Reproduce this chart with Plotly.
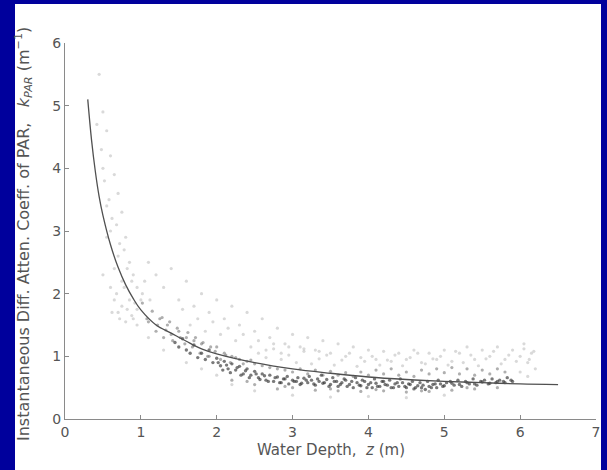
import plotly.graph_objects as go

# Fitted curve
curve_z = [0.3, 0.35, 0.4, 0.45, 0.5, 0.6, 0.7, 0.8, 0.9, 1.0, 1.2, 1.4, 1.6, 1.8, 2.0, 2.5, 3.0, 3.5, 4.0, 4.5, 5.0, 5.5, 6.0, 6.5]
curve_k = [5.1, 4.45, 3.95, 3.55, 3.25, 2.78, 2.42, 2.14, 1.92, 1.74, 1.5, 1.37, 1.24, 1.12, 1.04, 0.9, 0.8, 0.73, 0.67, 0.63, 0.6, 0.58, 0.56, 0.55]

# Dense core of observations
dark_z = [1.45, 1.5, 1.55, 1.6, 1.65, 1.7, 1.75, 1.8, 1.85, 1.9, 1.95, 2.0, 2.05, 2.1, 2.15, 2.2, 2.25, 2.3, 2.35, 2.4,
          2.45, 2.5, 2.55, 2.6, 2.65, 2.7, 2.75, 2.8, 2.85, 2.9, 2.95, 3.0, 3.05, 3.1, 3.15, 3.2, 3.25, 3.3, 3.35, 3.4,
          3.45, 3.5, 3.55, 3.6, 3.65, 3.7, 3.75, 3.8, 3.85, 3.9, 3.95, 4.0, 4.05, 4.1, 4.15, 4.2, 4.25, 4.3, 4.35, 4.4,
          4.45, 4.5, 4.55, 4.6, 4.65, 4.7, 4.75, 4.8, 4.85, 4.9, 4.95, 5.0, 5.1, 5.2, 5.3, 5.4, 5.5, 5.6, 5.7, 5.8, 5.9]
dark_k = [1.22, 1.15, 1.28, 1.1, 1.05, 1.18, 0.98, 1.05, 0.95, 1.1, 0.9, 0.97, 0.85, 0.92, 0.8, 0.88, 0.78, 0.84, 0.72, 0.8,
          0.7, 0.76, 0.66, 0.72, 0.62, 0.7, 0.6, 0.67, 0.58, 0.64, 0.56, 0.62, 0.6, 0.55, 0.65, 0.58, 0.62, 0.54, 0.6, 0.57,
          0.63, 0.55, 0.6, 0.52, 0.58, 0.62, 0.55, 0.5, 0.58, 0.53, 0.6, 0.55, 0.5, 0.57, 0.52, 0.6, 0.54, 0.5, 0.56, 0.52,
          0.58, 0.5, 0.55, 0.48, 0.53, 0.5, 0.47, 0.52, 0.55, 0.5, 0.56, 0.53, 0.57, 0.55, 0.58, 0.56, 0.59, 0.57, 0.6, 0.58, 0.6]

core_z = [2.02, 2.08, 2.13, 2.18, 2.27, 2.32, 2.38, 2.43, 2.52, 2.57, 2.63, 2.68, 2.77, 2.83, 2.88, 2.93,
          3.02, 3.07, 3.12, 3.18, 3.22, 3.28, 3.33, 3.38, 3.42, 3.48, 3.53, 3.58, 3.63, 3.68, 3.72, 3.78, 3.83, 3.88, 3.92, 3.98,
          4.03, 4.08, 4.12, 4.18, 4.22, 4.28, 4.33, 4.38, 4.42, 4.48, 4.53, 4.58, 4.62, 4.68, 4.72, 4.78, 4.83, 4.88, 4.92, 4.98,
          5.03, 5.08, 5.13, 5.18, 5.23, 5.28, 5.33, 5.38, 5.43, 5.48, 5.53, 5.58, 5.63, 5.68, 5.73, 5.78, 5.83, 5.88]
core_k = [0.9, 0.78, 0.86, 0.74, 0.82, 0.7, 0.77, 0.66, 0.72, 0.63, 0.69, 0.6, 0.66, 0.58, 0.64, 0.68,
          0.6, 0.66, 0.57, 0.62, 0.68, 0.56, 0.64, 0.7, 0.58, 0.52, 0.66, 0.6, 0.55, 0.64, 0.52, 0.6, 0.66, 0.54, 0.62, 0.5,
          0.58, 0.64, 0.52, 0.6, 0.55, 0.62, 0.5, 0.58, 0.64, 0.52, 0.56, 0.6, 0.5, 0.58, 0.54, 0.6, 0.5, 0.56, 0.62, 0.52,
          0.58, 0.6, 0.54, 0.62, 0.52, 0.6, 0.56, 0.64, 0.54, 0.6, 0.62, 0.56, 0.64, 0.58, 0.62, 0.6, 0.66, 0.62]

# Medium-density observations
mid_z = [1.1, 1.2, 1.25, 1.3, 1.35, 1.4, 1.5, 1.6, 1.7, 1.8, 1.9, 2.0, 2.1, 2.2, 2.3, 2.4, 2.5, 2.6, 2.7, 2.8,
         2.9, 3.0, 3.1, 3.2, 3.3, 3.4, 3.5, 3.6, 3.7, 3.8, 3.9, 4.0, 4.1, 4.2, 4.3, 4.4, 4.5, 4.6, 4.7, 4.8,
         4.9, 5.0, 5.1, 5.2, 5.3, 5.4, 5.5, 5.6, 5.7, 5.8,
         2.2, 2.5, 2.8, 3.0, 3.3, 3.6, 3.9, 4.2, 4.5, 4.8, 5.1, 5.4, 5.7, 2.4, 2.9, 3.5, 4.1, 4.7, 5.3]
mid_k = [1.55, 1.4, 1.6, 1.3, 1.5, 1.35, 1.4, 1.3, 1.25, 1.2, 1.0, 1.15, 1.05, 1.0, 0.95, 0.92, 0.88, 0.85, 0.82, 0.8,
         0.78, 0.75, 0.8, 0.72, 0.78, 0.7, 0.76, 0.7, 0.74, 0.68, 0.75, 0.7, 0.78, 0.72, 0.8, 0.7, 0.75, 0.68, 0.78, 0.72,
         0.8, 0.74, 0.82, 0.72, 0.8, 0.7, 0.78, 0.72, 0.8, 0.75,
         0.62, 0.55, 0.48, 0.5, 0.46, 0.45, 0.44, 0.45, 0.43, 0.44, 0.46, 0.48, 0.5, 0.6, 0.52, 0.48, 0.47, 0.45, 0.5]

near_curve_z = [1.02, 1.08, 1.15, 1.22, 1.28, 1.33, 1.38, 1.42, 1.48, 1.52, 1.58, 1.62, 1.68, 1.72, 1.78, 1.82, 1.88, 1.92,
                1.98, 2.05, 2.12, 2.18, 2.25, 2.35, 2.45]
near_curve_k = [1.85, 1.6, 1.72, 1.5, 1.62, 1.42, 1.55, 1.25, 1.45, 1.3, 1.2, 1.38, 1.15, 1.3, 1.05, 1.22, 1.0, 1.15,
                1.08, 0.95, 1.02, 0.9, 0.98, 0.88, 0.94]

upper_band_z = [2.55, 2.65, 2.75, 2.85, 2.95, 3.05, 3.15, 3.25, 3.35, 3.45, 3.55, 3.65, 3.75, 3.85, 3.95,
                4.05, 4.15, 4.25, 4.35, 4.45, 4.55, 4.65, 4.75, 4.85, 4.95, 5.05, 5.15, 5.25, 5.35, 5.45,
                5.55, 5.65, 5.75, 5.85, 5.95, 6.05, 6.12, 6.18]
upper_band_k = [1.05, 0.98, 1.12, 0.95, 1.02, 0.9, 1.08, 0.88, 0.96, 1.02, 0.86, 0.94, 1.05, 0.84, 0.92,
                1.0, 0.86, 0.94, 1.02, 0.85, 0.98, 1.05, 0.88, 0.96, 1.0, 0.86, 1.08, 0.9, 1.02, 0.85,
                0.96, 1.08, 0.88, 1.02, 0.92, 1.12, 0.95, 1.08]

# Sparse, faint observations
light_z = [0.45, 0.5, 0.55, 0.6, 0.5, 0.65, 0.7, 0.55, 0.75, 0.6, 0.8, 0.7, 0.85, 0.5, 0.6, 0.65, 0.75, 0.9, 0.95, 1.0,
           1.05, 0.7, 0.8, 0.9,
           1.1, 1.2, 1.3, 1.4, 1.5, 1.6, 1.7, 1.8, 1.9, 2.0, 2.1, 2.2, 2.3, 2.4, 2.5, 2.6, 2.7, 2.8, 2.9, 3.0,
           3.1, 3.2, 3.3, 3.4, 3.5, 3.6, 3.7, 3.8, 3.9, 4.0, 4.1, 4.2, 4.3, 4.4, 4.5, 4.6, 4.7, 4.8, 4.9, 5.0,
           5.1, 5.2, 5.3, 5.4, 5.5, 5.6, 5.7, 5.8, 5.9, 6.0, 6.05, 6.1, 6.15, 6.2, 6.0, 6.1,
           1.6, 1.8, 2.0, 2.2, 2.5, 3.0, 3.5, 4.0, 4.5, 5.0, 1.3, 1.1, 0.95]
light_k = [5.5, 4.9, 4.6, 4.2, 4.0, 3.9, 3.6, 3.4, 3.3, 3.0, 2.9, 2.6, 2.5, 2.3, 2.1, 1.9, 1.8, 2.3, 2.1, 1.9,
           2.2, 1.7, 1.55, 1.6,
           2.5, 2.3, 2.1, 2.4, 1.9, 2.2, 1.8, 2.0, 1.7, 1.9, 1.6, 1.8, 1.5, 1.7, 1.4, 1.6, 1.3, 1.45, 1.2, 1.35,
           1.15, 1.3, 1.1, 1.25, 1.05, 1.2, 1.0, 1.15, 0.98, 1.1, 0.95, 1.08, 0.92, 1.05, 0.95, 1.1, 0.9, 1.05, 0.95, 1.1,
           0.92, 1.05, 1.15, 0.95, 1.1, 1.0, 1.15, 0.95, 1.1, 1.0, 1.2, 0.9, 1.05, 0.8, 0.75, 0.68,
           0.9, 0.8, 0.7, 0.55, 0.45, 0.38, 0.35, 0.36, 0.34, 0.38, 1.1, 1.3, 1.5]

left_cloud_z = [0.42, 0.48, 0.52, 0.58, 0.62, 0.68, 0.72, 0.78, 0.82, 0.88, 0.55, 0.65, 0.75, 0.85, 0.95,
                0.62, 0.72, 0.82, 0.92, 1.02, 1.12, 0.68, 0.78, 0.88]
left_cloud_k = [4.7, 4.3, 3.8, 3.5, 3.2, 3.1, 2.8, 2.7, 2.4, 2.2, 2.9, 2.4, 2.2, 1.9, 1.75,
                1.7, 1.6, 1.75, 1.85, 2.0, 1.9, 2.0, 2.1, 1.65]

upper_left_z = [1.55, 1.75, 1.95, 2.15, 2.35, 2.55, 2.75, 2.95, 3.15, 3.35, 2.05, 2.25, 2.45, 2.65, 2.85, 1.65, 1.85]
upper_left_k = [1.75, 1.6, 1.55, 1.45, 1.35, 1.25, 1.2, 1.15, 1.12, 1.08, 1.35, 1.25, 1.15, 1.1, 1.05, 1.5, 1.4]

x_ticks = [0, 1, 2, 3, 4, 5, 6, 7]
y_ticks = [0, 1, 2, 3, 4, 5, 6]

W, H = 607, 470
L, R, T, B = 65, 11, 43, 51
pw, ph = W - L - R, H - T - B
FONT = "DejaVu Sans, Liberation Sans, Arial, sans-serif"

fig = go.Figure()
faint = dict(size=3.2, color="rgba(160,160,160,0.4)")
medium = dict(size=3.2, color="rgba(110,110,110,0.55)")
strong = dict(size=3.4, color="rgba(50,50,50,0.65)")
for xs, ys, mk in [(light_z, light_k, faint), (left_cloud_z, left_cloud_k, faint), (upper_left_z, upper_left_k, faint),
                   (upper_band_z, upper_band_k, faint), (mid_z, mid_k, medium), (near_curve_z, near_curve_k, medium),
                   (core_z, core_k, strong), (dark_z, dark_k, strong)]:
    fig.add_trace(go.Scatter(x=xs, y=ys, mode="markers", marker=mk, showlegend=False, hoverinfo="skip"))
fig.add_trace(go.Scatter(x=curve_z, y=curve_k, mode="lines", line=dict(color="#505050", width=1.3, shape="spline"),
                         showlegend=False, hoverinfo="skip"))

axis_common = dict(showgrid=False, zeroline=False, showline=True, linecolor="#8a8a8a", linewidth=1.2,
                   ticks="inside", ticklen=4, tickcolor="#8a8a8a", automargin=False, ticklabeloverflow="allow",
                   tickfont=dict(family=FONT, size=14, color="#555555"))

fig.update_layout(
    template="none",
    width=W, height=H,
    margin=dict(l=L, r=R, t=T, b=B, pad=0),
    paper_bgcolor="#00009C",
    plot_bgcolor="white",
    xaxis=dict(range=[0, 7], tickvals=x_ticks, **axis_common),
    yaxis=dict(range=[0, 6], tickvals=y_ticks, **axis_common),
    shapes=[dict(type="rect", xref="paper", yref="paper", layer="below",
                 x0=(15 - L) / pw, x1=(601 - L) / pw, y0=(H - B - 472) / ph, y1=(H - B - 4) / ph,
                 fillcolor="white", line=dict(width=0))],
    annotations=[
        dict(text="Water Depth,  <i>z</i> (m)", xref="paper", yref="paper",
             x=0.5, y=(H - B - 450) / ph, showarrow=False, xanchor="center", yanchor="middle",
             font=dict(family=FONT, size=15, color="#555555")),
        dict(text="Instantaneous Diff. Atten. Coeff. of PAR,   <i>k</i><sub><i>PAR</i></sub> (m<sup>−1</sup>)",
             xref="paper", yref="paper", x=(23 - L) / pw, y=(H - B - 234) / ph, textangle=-90, showarrow=False,
             xanchor="center", yanchor="middle",
             font=dict(family=FONT, size=16, color="#555555")),
    ],
)

fig.write_html("out.html", config={"displayModeBar": False},
               post_script="document.body.style.margin='0';document.body.style.padding='0';")
